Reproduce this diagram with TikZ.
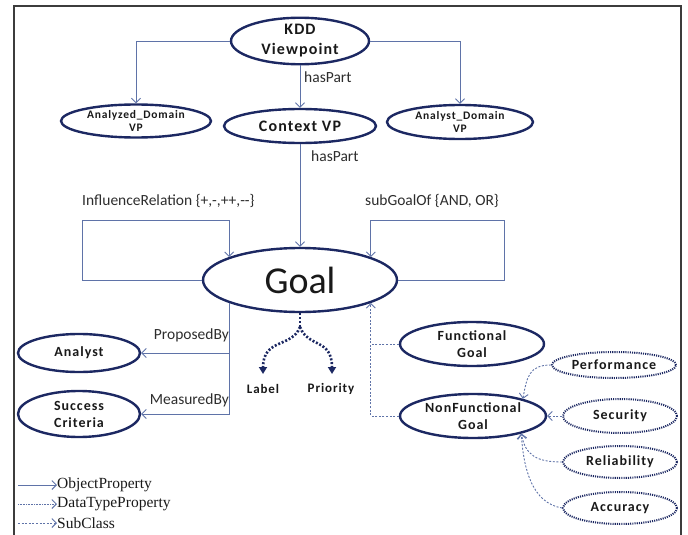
\documentclass[tikz,border=0pt]{standalone}
\usepackage{fontspec}
\setmainfont{Carlito}
\newfontfamily\spc[LetterSpace=7]{Carlito}
\newfontfamily\tms{Liberation Serif}
\usetikzlibrary{arrows.meta,shapes.geometric}
\definecolor{navy}{RGB}{28,40,98}
\definecolor{linec}{RGB}{95,115,168}
\definecolor{txt}{RGB}{25,25,25}
\definecolor{labc}{RGB}{45,45,45}
\definecolor{framec}{RGB}{60,60,60}
\begin{document}
\begin{tikzpicture}[x=1pt,y=-1pt,
  ell/.style={ellipse, draw=navy, line width=2.4pt, inner sep=0pt, align=center, text=txt},
  dell/.style={ell, line width=2pt, dash pattern=on 1.1pt off 1.1pt},
  op/.style={draw=linec, line width=0.9pt, -{Straight Barb[length=4.5pt,width=9pt]}},
  sc/.style={op, dash pattern=on 2pt off 1.6pt},
  dp/.style={draw=navy, line width=2.6pt, dash pattern=on 2pt off 1.8pt, -{Triangle[length=7pt,width=8pt]}},
  elab/.style={inner sep=0pt, text=labc, font=\fontsize{15.5}{18}\selectfont},
  bigf/.style={font=\spc\bfseries\fontsize{16}{20}\selectfont},
  smallf/.style={font=\spc\bfseries\fontsize{11.5}{12.5}\selectfont},
  midf/.style={font=\spc\bfseries\fontsize{14}{17}\selectfont},
  legf/.style={inner sep=0pt, anchor=west, text=txt, font=\tms\fontsize{15.5}{18}\selectfont},
]
\useasboundingbox (0,0) rectangle (688,535);
% frame
\draw[framec, line width=1.6pt] (14,535) -- (14,6) -- (681,6) -- (681,535);

% nodes
\node[ell, bigf, minimum width=138pt, minimum height=44pt] (kdd) at (300,41) {KDD\\Viewpoint};
\node[ell, bigf, minimum width=152pt, minimum height=34pt] (ctx) at (300,126) {Context VP};
\node[ell, smallf, minimum width=150pt, minimum height=33pt] (adom) at (136,121) {Analyzed\_Domain\\VP};
\node[ell, smallf, minimum width=146pt, minimum height=34pt] (asdom) at (460,122) {Analyst\_Domain\\VP};
\node[ell, minimum width=194pt, minimum height=64pt, font=\fontsize{38}{40}\selectfont] (goal) at (300,280) {Goal};
\node[ell, midf, minimum width=122pt, minimum height=38pt] (analyst) at (79,353) {Analyst};
\node[ell, midf, minimum width=122pt, minimum height=46pt] (succ) at (79,414) {Success\\Criteria};
\node[ell, midf, minimum width=144pt, minimum height=44pt] (func) at (472,344) {Functional\\Goal};
\node[ell, midf, minimum width=146pt, minimum height=44pt] (nonf) at (473,416) {NonFunctional\\Goal};
\node[dell, midf, minimum width=124pt, minimum height=26pt] (perf) at (614,365) {Performance};
\node[dell, midf, minimum width=114pt, minimum height=34pt] (sec) at (620,416) {Security};
\node[dell, midf, minimum width=114pt, minimum height=32pt] (rel) at (620,462) {Reliability};
\node[dell, midf, minimum width=114pt, minimum height=32pt] (acc) at (620,508) {Accuracy};
\node[inner sep=0pt, text=txt, font=\spc\bfseries\fontsize{13}{15}\selectfont] (lbl) at (263,389) {Label};
\node[inner sep=0pt, text=txt, font=\spc\bfseries\fontsize{13}{15}\selectfont] (pri) at (331,389) {Priority};

% edge labels
\node[elab, anchor=west] (hp1) at (304,77) {hasPart};
\node[elab, anchor=west] (hp2) at (311,156) {hasPart};
\node[elab, anchor=west] (infl) at (82,201) {InfluenceRelation \{+,-,++,-\kern0pt-\}};
\node[elab, anchor=west] (subg) at (365,201) {subGoalOf \{AND, OR\}};
\node[elab, anchor=east] (prop) at (229,335) {ProposedBy};
\node[elab, anchor=east] (meas) at (229,400) {MeasuredBy};

% object properties
\draw[op] (kdd.west) -| (adom.north);
\draw[op] (kdd.east) -| (asdom.north);
\draw[op] (kdd.south) -- (ctx.north);
\draw[op] (ctx.south) -- (goal.north);
\draw[op] (goal.west) -| (82,220) -| (goal.162);
\draw[op] (goal.east) -| (504,220) -| (goal.18);
\draw[op] (goal.198) |- (analyst.east);
\draw[op] (goal.198) |- (succ.east);

% data type properties
\coordinate (split) at (300,327);
\coordinate (lblt) at (263,374);
\coordinate (prit) at (332,374);
\draw[dp, -] (goal.south) -- (split);
\draw[dp] (split) .. controls (292,348) and (263,338) .. (lblt);
\draw[dp] (split) .. controls (308,348) and (332,338) .. (prit);

% subclasses
\draw[sc, -] (func.west) -- (func.west -| goal.342);
\draw[sc] (nonf.west) -| (goal.342);
\draw[sc] (perf.west) .. controls +(-22,0) and +(4,-22) .. (nonf.19);
\draw[sc] (sec.west) -- (nonf.east);
\draw[sc] (rel.west) .. controls +(-25,0) and +(4,22) .. (nonf.340);
\draw[sc] (acc.west) .. controls +(-30,-5) and +(2,35) .. (nonf.340);

% legend
\coordinate (l1a) at (18,485); \coordinate (l1b) at (57,485);
\coordinate (l2a) at (18,504); \coordinate (l2b) at (57,504);
\coordinate (l3a) at (18,523); \coordinate (l3b) at (57,523);
\draw[op] (l1a) -- (l1b);
\draw[op, dash pattern=on 1pt off 0.6pt] (l2a) -- (l2b);
\draw[sc] (l3a) -- (l3b);
\node[legf] (t1) at (l1b) {ObjectProperty};
\node[legf] (t2) at (l2b) {DataTypeProperty};
\node[legf] (t3) at (l3b) {SubClass};
\end{tikzpicture}
\end{document}
